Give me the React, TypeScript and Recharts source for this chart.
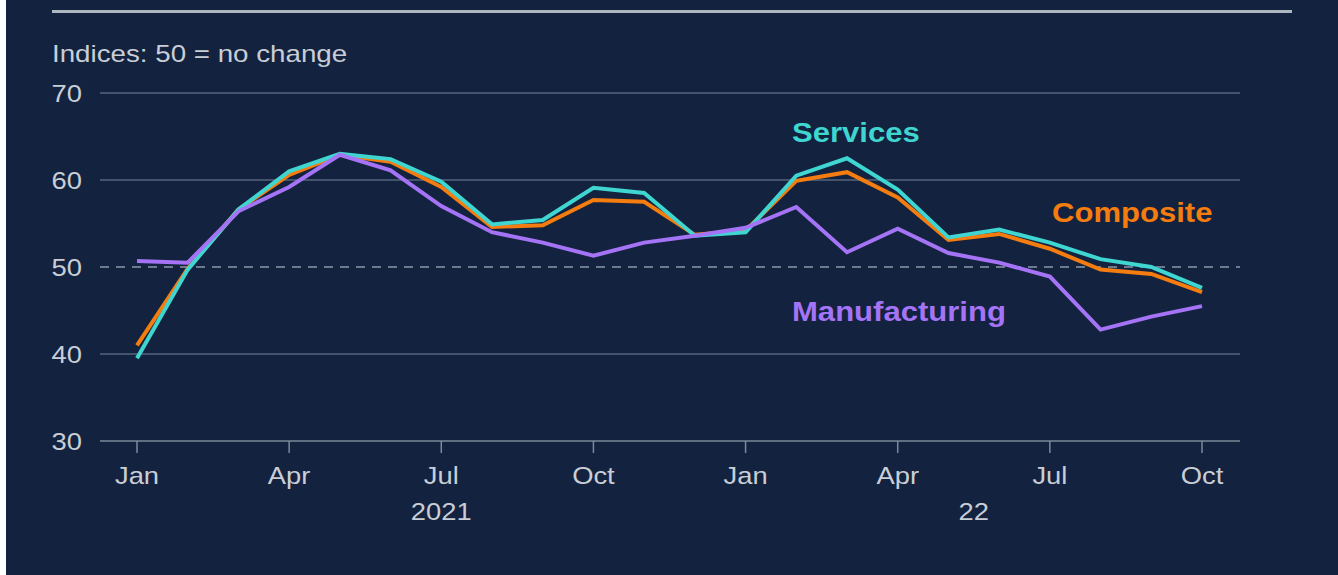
import React from 'react';
import { LineChart, Line, XAxis, YAxis, ReferenceLine } from 'recharts';

const months = ['Jan 2021','Feb 2021','Mar 2021','Apr 2021','May 2021','Jun 2021','Jul 2021','Aug 2021','Sep 2021','Oct 2021','Nov 2021','Dec 2021','Jan 2022','Feb 2022','Mar 2022','Apr 2022','May 2022','Jun 2022','Jul 2022','Aug 2022','Sep 2022','Oct 2022'];
const services = [39.5,49.7,56.6,61.0,63.0,62.4,59.8,54.9,55.4,59.1,58.5,53.6,54.0,60.5,62.5,58.9,53.4,54.3,52.8,50.9,50.0,47.6];
const composite = [41.0,49.8,56.6,60.6,62.9,62.1,59.2,54.6,54.8,57.7,57.5,53.7,54.2,59.9,60.9,58.0,53.1,53.8,52.1,49.7,49.2,47.1];
const manufacturing = [50.7,50.5,56.4,59.2,62.9,61.1,57.0,54.0,52.8,51.3,52.8,53.6,54.5,56.9,51.7,54.4,51.6,50.5,48.9,42.8,44.3,45.5];

const monthTicks = [0,3,6,9,12,15,18,21];
const monthTickLabels = ['Jan','Apr','Jul','Oct','Jan','Apr','Jul','Oct'];
const yearTicks = [6,16.5];
const yearTickLabels = ['2021','22'];
const yTicks = [30,40,50,60,70];
const solidGrid = [40,60,70];

const data = months.map((m, i) => ({
  idx: i,
  month: m,
  services: services[i],
  composite: composite[i],
  manufacturing: manufacturing[i],
}));

const FONT = '"Liberation Sans", Arial, Helvetica, sans-serif';
const TEXT = '#c9ced6';
const GRID = '#56667c';
const SX = 1.14;
const BG = '#13233f';

const LeftTick = (p: any) => (
  <text transform={`translate(${p.x},${p.y + 8.5}) scale(${SX},1)`} textAnchor="end" fill={TEXT} fontSize={24} fontFamily={FONT}>
    {p.payload.value}
  </text>
);
const RightTick = (p: any) => (
  <text transform={`translate(${p.x},${p.y + 8.5}) scale(${SX},1)`} textAnchor="start" fill={TEXT} fontSize={24} fontFamily={FONT}>
    {p.payload.value}
  </text>
);
const MonthTick = (p: any) => {
  const k = monthTicks.indexOf(p.payload.value);
  return (
    <text transform={`translate(${p.x},${p.y + 31}) scale(${SX},1)`} textAnchor="middle" fill={TEXT} fontSize={24} fontFamily={FONT}>
      {monthTickLabels[k]}
    </text>
  );
};
const YearTick = (p: any) => {
  const k = yearTicks.indexOf(p.payload.value);
  return (
    <text transform={`translate(${p.x},${p.y + 29}) scale(${SX},1)`} textAnchor="middle" fill={TEXT} fontSize={24} fontFamily={FONT}>
      {yearTickLabels[k]}
    </text>
  );
};

const seriesLabel = (color: string): React.CSSProperties => ({
  position: 'absolute',
  color,
  fontFamily: FONT,
  fontWeight: 'bold',
  fontSize: 27,
  lineHeight: '27px',
  whiteSpace: 'nowrap',
  transform: 'scaleX(1.15)',
  transformOrigin: 'left top',
});

export default function App() {
  return (
    <div style={{ position: 'absolute', left: 0, top: 0, width: 1338, height: 575, background: '#ffffff', overflow: 'hidden' }}>
      <div style={{ position: 'absolute', left: 6, top: 0, width: 1332, height: 575, background: BG }}>
        <div style={{ position: 'absolute', left: 46, top: 10, width: 1240, height: 3, background: '#aeb6c0' }} />
        <div style={{ position: 'absolute', left: 46, top: 41, color: TEXT, fontFamily: FONT, fontSize: 24, lineHeight: '26px', whiteSpace: 'nowrap', transform: 'scaleX(1.155)', transformOrigin: 'left top' }}>
          Indices: 50 = no change
        </div>
        <div style={{ position: 'absolute', left: 0, top: 0 }}>
          <LineChart width={1332} height={575} data={data} margin={{ top: 93, right: 0, left: 0, bottom: 44 }}>
            <XAxis xAxisId="main" type="number" dataKey="idx" domain={[0, 21]} ticks={monthTicks} interval={0}
              padding={{ left: 37, right: 38 }} height={50} tickSize={12} tickMargin={0}
              axisLine={{ stroke: '#7d8a9b', strokeWidth: 1.5 }} tickLine={{ stroke: '#7d8a9b', strokeWidth: 1.5 }} tick={<MonthTick />} />
            <XAxis xAxisId="year" type="number" dataKey="idx" domain={[0, 21]} ticks={yearTicks} interval={0}
              padding={{ left: 37, right: 38 }} height={40} tickSize={0} tickMargin={0}
              axisLine={false} tickLine={false} tick={<YearTick />} />
            <YAxis yAxisId="left" orientation="left" domain={[30, 70]} ticks={yTicks} interval={0} width={94}
              tickSize={0} tickMargin={18} axisLine={false} tickLine={false} tick={<LeftTick />} />
            <YAxis yAxisId="right" orientation="right" domain={[30, 70]} ticks={yTicks} interval={0} width={98}
              tickSize={0} tickMargin={22} axisLine={false} tickLine={false} tick={<RightTick />} />
            {solidGrid.map((v) => (
              <ReferenceLine key={v} xAxisId="main" yAxisId="left" y={v} stroke={GRID} strokeWidth={1.5} />
            ))}
            <ReferenceLine xAxisId="main" yAxisId="left" y={50} stroke="#8c98a8" strokeWidth={1.5} strokeDasharray="9 7" />
            <Line xAxisId="main" yAxisId="left" type="linear" dataKey="composite" stroke="#f57c0f" strokeWidth={4} dot={false} isAnimationActive={false} />
            <Line xAxisId="main" yAxisId="left" type="linear" dataKey="services" stroke="#3fd5d0" strokeWidth={4} dot={false} isAnimationActive={false} />
            <Line xAxisId="main" yAxisId="left" type="linear" dataKey="manufacturing" stroke="#a574f6" strokeWidth={4} dot={false} isAnimationActive={false} />
          </LineChart>
        </div>
        <div style={{ ...seriesLabel('#3fd5d0'), left: 786, top: 120 }}>Services</div>
        <div style={{ ...seriesLabel('#f57c0f'), left: 1046, top: 200 }}>Composite</div>
        <div style={{ ...seriesLabel('#a574f6'), left: 786, top: 299 }}>Manufacturing</div>
      </div>
    </div>
  );
}
